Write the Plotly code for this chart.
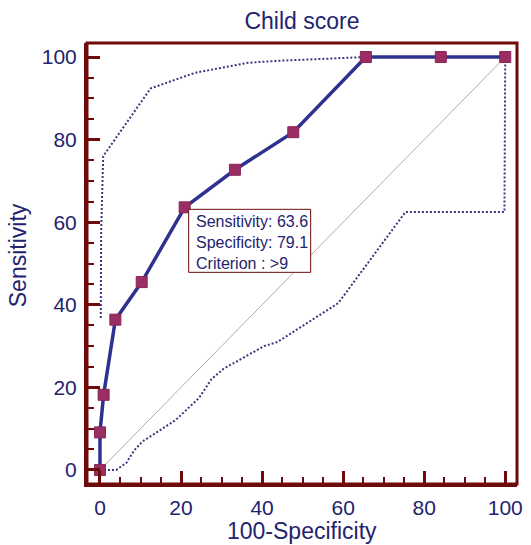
import plotly.graph_objects as go

# ROC curve points (100-Specificity, Sensitivity)
roc_x = [0, 0, 0.9, 3.8, 10.3, 20.9, 33.3, 47.7, 65.6, 84.1, 100]
roc_y = [0, 9.1, 18.2, 36.4, 45.5, 63.6, 72.7, 81.8, 100, 100, 100]

# Upper confidence band
upper_x = [0.2, 0.3, 0.8, 12.5, 23.5, 36.5, 44.0, 65.6, 100]
upper_y = [36.8, 58.0, 76.0, 92.4, 96.2, 98.6, 99.1, 100, 100]

# Lower confidence band
lower_x = [0, 4.0, 6.5, 8.5, 10.5, 18.7, 24.5, 27.5, 30.5, 40.5, 43.8, 58.8, 75.4, 99.8, 100]
lower_y = [0, 0, 1.7, 4.8, 6.9, 12.1, 17.5, 22.0, 24.5, 30.0, 31.0, 40.4, 62.5, 62.5, 100]

diag_x = [0, 100]
diag_y = [0, 100]

tick_vals = [0, 20, 40, 60, 80, 100]

# Selected criterion
crit_x = 20.9
crit_y = 63.6
crit_text = "Sensitivity: 63.6<br>Specificity: 79.1<br>Criterion : >9"

MAROON = "#6e0a0a"
NAVY = "#23236e"
FONT = "Liberation Sans, Arial"

fig = go.Figure()
fig.add_trace(go.Scatter(x=diag_x, y=diag_y, mode="lines",
                         line=dict(color="#bca7a2", width=1), hoverinfo="skip"))
fig.add_trace(go.Scatter(x=upper_x, y=upper_y, mode="lines",
                         line=dict(color="#363a7c", width=2, dash="2px,2px")))
fig.add_trace(go.Scatter(x=lower_x, y=lower_y, mode="lines",
                         line=dict(color="#363a7c", width=2, dash="2px,2px")))
fig.add_trace(go.Scatter(x=roc_x, y=roc_y, mode="lines+markers",
                         line=dict(color="#2e3190", width=3.5),
                         marker=dict(symbol="square", size=11, color="#9a2e62",
                                     line=dict(color="#8a2556", width=1))))

axis_common = dict(
    showgrid=False, zeroline=False,
    showline=True, linewidth=3, linecolor=MAROON,
    ticks="inside", ticklen=13, tickwidth=2.5, tickcolor=MAROON,
    tickvals=tick_vals,
    tickfont=dict(family=FONT, size=21, color=NAVY),
    minor=dict(ticks="inside", ticklen=7, tickwidth=2, tickcolor=MAROON,
               dtick=5, tick0=0, showgrid=False),
)

fig.update_xaxes(range=[-3.2, 102.9], ticklabelstandoff=3, **axis_common)
fig.update_yaxes(range=[-3.4, 103.4], ticklabelstandoff=3, **axis_common)

fig.add_shape(type="rect", xref="paper", yref="paper", x0=0, x1=1, y0=0, y1=1,
              line=dict(color=MAROON, width=3), layer="above")

# Criterion box (pixel-sized, anchored at the criterion point)
fig.add_shape(type="rect", xref="x", yref="y",
              xsizemode="pixel", ysizemode="pixel",
              xanchor=crit_x, yanchor=crit_y,
              x0=4, x1=126, y0=-2, y1=-65,
              line=dict(color=MAROON, width=1), fillcolor="white", layer="above")
fig.add_annotation(
    x=crit_x, y=crit_y, xref="x", yref="y", xanchor="left", yanchor="middle",
    xshift=9, yshift=-35, align="left", showarrow=False,
    text=crit_text,
    font=dict(family=FONT, size=16, color=NAVY),
)

fig.add_annotation(
    x=0.5, y=0, xref="paper", yref="paper", yanchor="middle", yshift=-47,
    showarrow=False, text="100-Specificity",
    font=dict(family=FONT, size=23, color=NAVY),
)
fig.add_annotation(
    x=0, y=52, xref="paper", yref="y", xanchor="center", yanchor="middle",
    xshift=-69, textangle=-90, showarrow=False, text="Sensitivity",
    font=dict(family=FONT, size=23, color=NAVY),
)

fig.update_layout(
    width=531, height=545,
    margin=dict(l=87, r=8, t=43, b=61),
    paper_bgcolor="white", plot_bgcolor="white",
    showlegend=False,
    title=dict(text="Child score", x=0.5, xref="paper", xanchor="center",
               y=1 - 21 / 545, yanchor="middle",
               font=dict(family=FONT, size=23, color=NAVY)),
)

fig.write_html("out.html")
